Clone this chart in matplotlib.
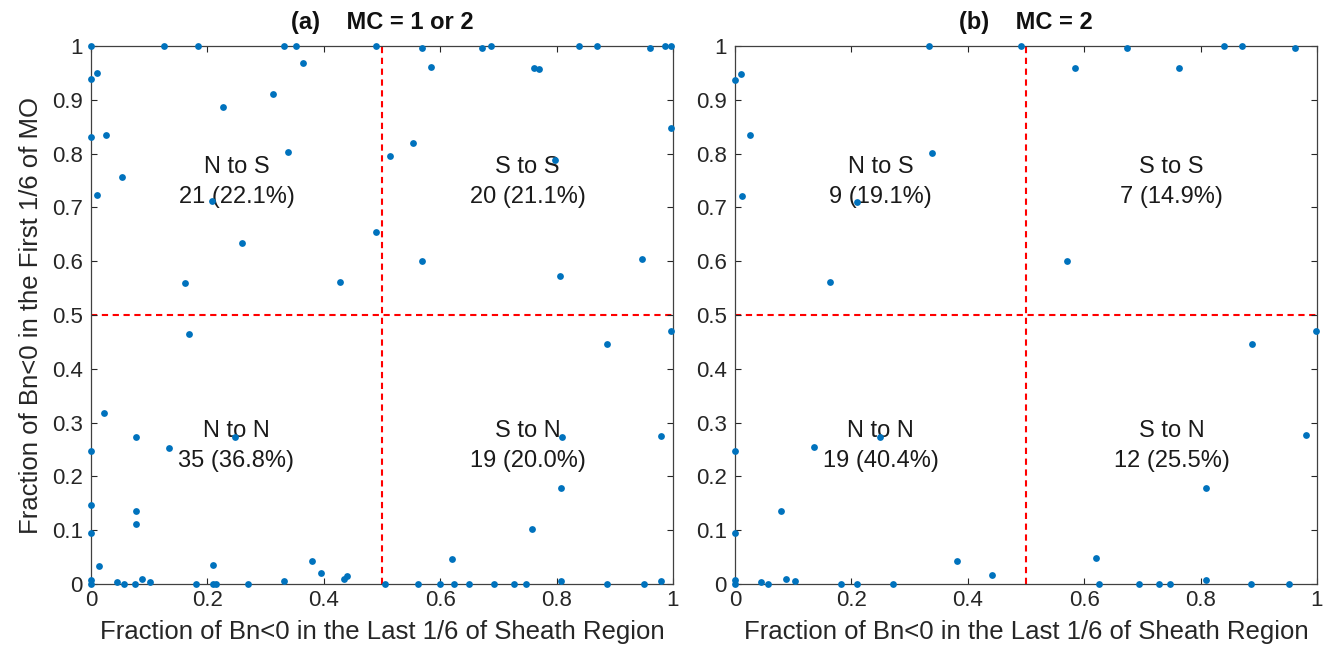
import matplotlib
matplotlib.use("Agg")
import matplotlib.pyplot as plt

plt.rcParams['font.family'] = ['Liberation Sans', 'DejaVu Sans']

# panel (a): MC = 1 or 2
a_x = [0, 0.125, 0.184, 0.332, 0.352, 0.490,
       0, 0.010, 0.364, 0.313, 0.226, 0, 0.026, 0.338, 0.054, 0.011, 0.208, 0.260, 0.489, 0.162, 0.428,
       0.568, 0.672, 0.687, 0.839, 0.870, 0.961, 0.986, 0.997,
       0.584, 0.761, 0.770, 0.997, 0.553, 0.514, 0.798, 0.569, 0.947, 0.806,
       0.169, 0.022, 0, 0.078, 0.134, 0.248, 0, 0.078, 0.078, 0, 0.014, 0.209, 0.380, 0.396, 0.434, 0.440,
       0, 0, 0.044, 0.056, 0.075, 0.087, 0.102, 0.181, 0.209, 0.214, 0.270, 0.332,
       0.997, 0.887, 0.810, 0.979, 0.807, 0.757, 0.620,
       0.505, 0.561, 0.600, 0.623, 0.649, 0.692, 0.727, 0.747, 0.808, 0.886, 0.950, 0.979]
a_y = [1, 1, 1, 1, 1, 1,
       0.938, 0.949, 0.969, 0.910, 0.887, 0.830, 0.835, 0.803, 0.756, 0.723, 0.711, 0.633, 0.655, 0.560, 0.561,
       0.996, 0.996, 1, 1, 1, 0.997, 1, 1,
       0.961, 0.960, 0.958, 0.847, 0.819, 0.796, 0.788, 0.600, 0.604, 0.573,
       0.464, 0.317, 0.247, 0.274, 0.253, 0.274, 0.147, 0.135, 0.112, 0.094, 0.034, 0.035, 0.042, 0.020, 0.009, 0.015,
       0.007, 0, 0.004, 0, 0, 0.009, 0.004, 0, 0, 0, 0, 0.006,
       0.470, 0.446, 0.273, 0.276, 0.178, 0.103, 0.047,
       0, 0, 0, 0, 0, 0, 0, 0, 0.006, 0, 0, 0.006]

# panel (b): MC = 2
b_x = [0.333, 0.492, 0, 0.010, 0.026, 0.339, 0.012, 0.210, 0.163,
       0.673, 0.840, 0.871, 0.963, 0.585, 0.763, 0.570,
       0, 0.135, 0.249, 0.079, 0, 0.382, 0.442, 0, 0, 0.045, 0.057, 0.088, 0.103, 0.182, 0.209, 0.271,
       0.999, 0.888, 0.981, 0.809, 0.620, 0.625, 0.694, 0.728, 0.748, 0.810, 0.887, 0.952]
b_y = [1, 1, 0.937, 0.948, 0.835, 0.802, 0.722, 0.710, 0.561,
       0.996, 1, 1, 0.997, 0.960, 0.960, 0.600,
       0.248, 0.254, 0.274, 0.136, 0.095, 0.043, 0.017, 0.007, 0, 0.004, 0, 0.010, 0.005, 0, 0, 0,
       0.470, 0.446, 0.277, 0.179, 0.048, 0, 0, 0, 0, 0.007, 0, 0]

titles = ['(a)    MC = 1 or 2', '(b)    MC = 2']
a_labels = ['N to S\n21 (22.1%)', 'S to S\n20 (21.1%)', 'N to N\n35 (36.8%)', 'S to N\n19 (20.0%)']
b_labels = ['N to S\n9 (19.1%)', 'S to S\n7 (14.9%)', 'N to N\n19 (40.4%)', 'S to N\n12 (25.5%)']
label_pos = [(0.25, 0.747), (0.75, 0.747), (0.25, 0.256), (0.75, 0.256)]

W, H = 1329, 651
fig = plt.figure(figsize=(W / 100, H / 100), dpi=100)
rects = [(91 / W, 67 / H, 582 / W, 538 / H), (735 / W, 67 / H, 582 / W, 538 / H)]
dark = '#262626'

for i, (xs, ys, labs) in enumerate([(a_x, a_y, a_labels), (b_x, b_y, b_labels)]):
    ax = fig.add_axes(rects[i])
    ax.set_xlim(0, 1)
    ax.set_ylim(0, 1)
    ax.axvline(0.5, color='red', ls=(0, (3, 2.2)), lw=1.5, zorder=1)
    ax.axhline(0.5, color='red', ls=(0, (3, 2.2)), lw=1.5, zorder=1)
    ax.scatter(xs, ys, s=24, color='#0072BD', zorder=3, clip_on=False, linewidths=0)
    for (tx, ty), t in zip(label_pos, labs):
        ax.text(tx, ty, t, ha='center', va='center', fontsize=17, color='#1a1a1a',
                linespacing=1.45, zorder=2)
    ax.set_xticks([0, 0.2, 0.4, 0.6, 0.8, 1])
    ax.set_xticklabels(['0', '0.2', '0.4', '0.6', '0.8', '1'])
    ax.set_yticks([i / 10 for i in range(11)])
    ax.set_yticklabels(['0', '0.1', '0.2', '0.3', '0.4', '0.5', '0.6', '0.7', '0.8', '0.9', '1'])
    ax.tick_params(direction='in', length=4, width=0.8, top=True, right=True,
                   labelsize=16, colors=dark)
    ax.tick_params(axis='x', pad=4)
    ax.tick_params(axis='y', pad=6)
    for sp in ax.spines.values():
        sp.set_color('#404040')
        sp.set_linewidth(0.9)
    ax.set_xlabel('Fraction of Bn<0 in the Last 1/6 of Sheath Region', fontsize=18.5, color=dark, labelpad=7)
    if i == 0:
        ax.set_ylabel('Fraction of Bn<0 in the First 1/6 of MO', fontsize=18.5, color=dark, labelpad=6)
    ax.set_title(titles[i], fontsize=17, fontweight='bold', color='#111111', pad=12)

fig.savefig('out.png', dpi=100)
